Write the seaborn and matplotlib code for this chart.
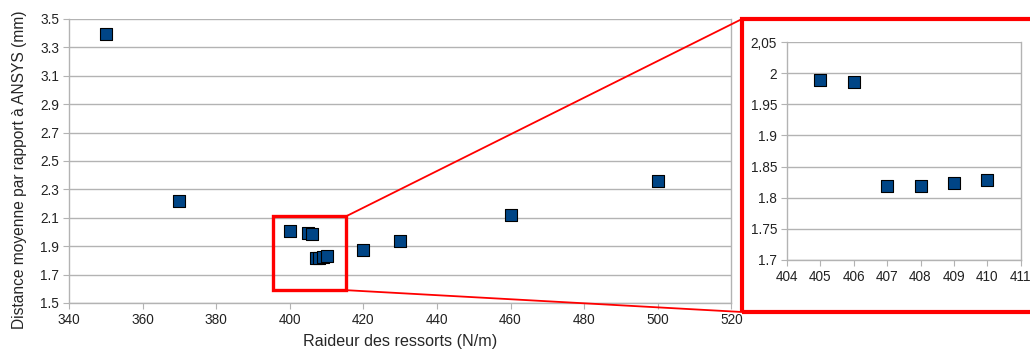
import numpy as np
import pandas as pd
import seaborn as sns
from matplotlib import pyplot as plt
from matplotlib.patches import Rectangle, ConnectionPatch

# main chart data
raideur = [350, 370, 400, 405, 406, 407, 408, 409, 410, 420, 430, 460, 500]
distance = [3.39, 2.22, 2.01, 1.99, 1.986, 1.818, 1.818, 1.823, 1.828, 1.875, 1.937, 2.12, 2.36]

# zoomed region data
raideur_zoom = [405, 406, 407, 408, 409, 410]
distance_zoom = [1.989, 1.986, 1.818, 1.818, 1.823, 1.828]

x_ticks = [340, 360, 380, 400, 420, 440, 460, 480, 500, 520]
y_ticks = [1.5, 1.7, 1.9, 2.1, 2.3, 2.5, 2.7, 2.9, 3.1, 3.3, 3.5]
x_ticks_zoom = [404, 405, 406, 407, 408, 409, 410, 411]
y_ticks_zoom = [1.7, 1.75, 1.8, 1.85, 1.9, 1.95, 2, 2.05]
y_labels_zoom = ["1.7", "1.75", "1.8", "1.85", "1.9", "1.95", "2", "2,05"]

sns.set_style("white")
plt.rcParams['font.family'] = ['Liberation Sans', 'DejaVu Sans']

main_df = pd.DataFrame({"raideur": raideur, "distance": distance})
zoom_df = pd.DataFrame({"raideur": raideur_zoom, "distance": distance_zoom})

fig = plt.figure(figsize=(10.3, 3.56), dpi=100)
ax = fig.add_axes([0.067, 0.149, 0.643, 0.798])
axz = fig.add_axes([0.764, 0.270, 0.227, 0.612])

grey = "#b3b3b3"
blue = "#004586"

for a in (ax, axz):
    a.set_axisbelow(True)
    a.yaxis.grid(True, color=grey, linewidth=1)
    a.xaxis.grid(False)
    for s in a.spines.values():
        s.set_color(grey)
        s.set_linewidth(1)
    a.spines["top"].set_visible(False)
    a.tick_params(axis="both", which="both", length=4, color=grey, labelsize=9.8,
                  labelcolor="#222222", direction="out", bottom=True, left=True, pad=3)

sns.scatterplot(data=main_df, x="raideur", y="distance", ax=ax, marker="s",
                s=75, color=blue, edgecolor="black", linewidth=0.8, zorder=3)
ax.set_xlim(340, 520)
ax.set_ylim(1.5, 3.5)
ax.set_xticks(x_ticks)
ax.set_yticks(y_ticks)
ax.set_xlabel("Raideur des ressorts (N/m)", fontsize=11.6, labelpad=5)
ax.set_ylabel("Distance moyenne par rapport à ANSYS (mm)", fontsize=11.2)
ax.yaxis.set_label_coords(-0.063, 0.47)

sns.scatterplot(data=zoom_df, x="raideur", y="distance", ax=axz, marker="s",
                s=75, color=blue, edgecolor="black", linewidth=0.8, zorder=3)
axz.set_xlim(404, 411)
axz.set_ylim(1.7, 2.05)
axz.set_xticks(x_ticks_zoom)
axz.set_yticks(y_ticks_zoom)
axz.set_yticklabels(y_labels_zoom)
axz.set_xlabel("")
axz.set_ylabel("")

# zoom box on main chart
box_x0, box_x1, box_y0, box_y1 = 395.5, 415.3, 1.59, 2.11
ax.add_patch(Rectangle((box_x0, box_y0), box_x1 - box_x0, box_y1 - box_y0,
                       fill=False, edgecolor="red", linewidth=2.4, zorder=5, clip_on=False))

# big frame around inset (figure coords)
fx0, fy0, fx1, fy1 = 742 / 1030, 1 - 312 / 356, 1.01, 1 - 19 / 356
fig.add_artist(Rectangle((fx0, fy0), fx1 - fx0, fy1 - fy0, transform=fig.transFigure,
                         fill=False, edgecolor="red", linewidth=3, clip_on=False))

for (dx, dy), (fx, fy) in [((box_x1, box_y1), (fx0, fy1)), ((box_x1, box_y0), (fx0, fy0))]:
    con = ConnectionPatch(xyA=(dx, dy), coordsA=ax.transData, xyB=(fx, fy),
                          coordsB=fig.transFigure, color="red", linewidth=1.3)
    fig.add_artist(con)

fig.savefig("out.png", dpi=100)
